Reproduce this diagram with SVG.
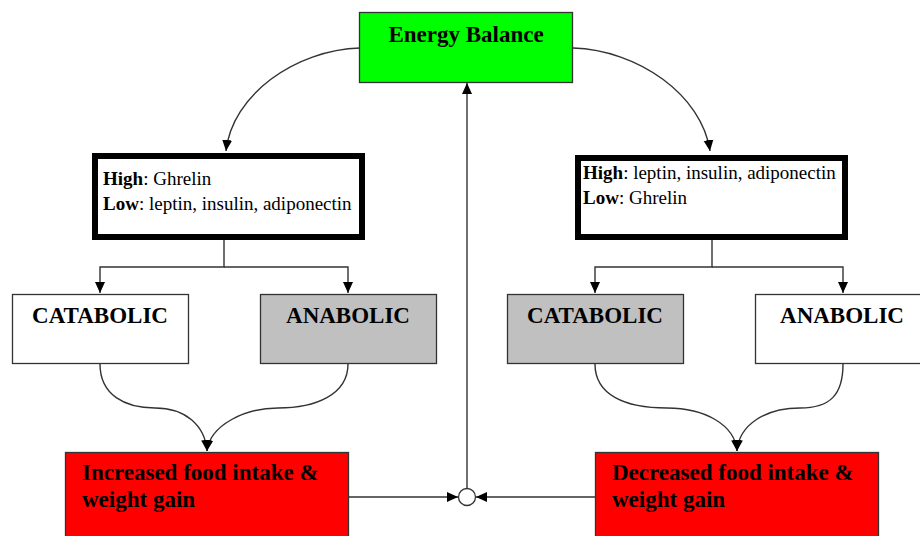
<svg xmlns="http://www.w3.org/2000/svg" width="920" height="536" viewBox="0 0 920 536">
<defs>
<marker id="arr" markerUnits="userSpaceOnUse" markerWidth="12" markerHeight="12" viewBox="0 0 12 12" refX="11" refY="6" orient="auto">
<path d="M0,1 L11,6 L0,11 Z" fill="#000"/>
</marker>
</defs>
<style>
.thin{stroke:#333;stroke-width:1.3}
.big{font-family:'Liberation Serif',serif;font-weight:bold;font-size:23px;fill:#000}
.hor{font-family:'Liberation Serif',serif;font-size:19px;fill:#000}
.thick{fill:#fff;stroke:#000;stroke-width:6}
.conn{fill:none;stroke:#333;stroke-width:1.4}
</style>
<rect width="920" height="536" fill="#fff"/>
<g id="connectors">
<path class="conn" d="M360,48 C295,50 232,95 226,151" marker-end="url(#arr)"/>
<path class="conn" d="M573,48 C638,50 702,95 710,151" marker-end="url(#arr)"/>
<path class="conn" d="M224,240 V267 H100 V293" marker-end="url(#arr)"/>
<path class="conn" d="M224,267 H348 V293" marker-end="url(#arr)"/>
<path class="conn" d="M712,240 V267 H595 V293" marker-end="url(#arr)"/>
<path class="conn" d="M712,267 H843 V293" marker-end="url(#arr)"/>
<path class="conn" d="M100,364 C100,395 125,408 155,408 C185,408 205,425 207,451" marker-end="url(#arr)"/>
<path class="conn" d="M348,364 C348,395 315,408 278,408 C245,408 210,425 207,451" marker-end="url(#arr)"/>
<path class="conn" d="M595,364 C595,395 625,408 667,408 C705,408 735,425 737,451" marker-end="url(#arr)"/>
<path class="conn" d="M843,364 C843,395 830,408 800,408 C765,408 739,425 737,451" marker-end="url(#arr)"/>
<path class="conn" d="M348,497 H458" marker-end="url(#arr)"/>
<path class="conn" d="M595,497 H476" marker-end="url(#arr)"/>
<path class="conn" d="M467,488 V83" marker-end="url(#arr)"/>
<circle cx="467" cy="497" r="8.5" fill="#fff" stroke="#333" stroke-width="1.3"/>
</g>
<g id="energy-balance">
<rect x="359.5" y="12.5" width="213" height="70" fill="#00ff00" class="thin"/>
<text class="big" x="466" y="42" text-anchor="middle">Energy Balance</text>
</g>
<g id="hormones-left" font-family="Liberation Serif, serif">
<rect class="thick" x="95" y="156" width="267" height="81"/>
<text class="hor" x="103" y="185"><tspan font-weight="bold">High</tspan>: Ghrelin</text>
<text class="hor" x="103" y="210"><tspan font-weight="bold">Low</tspan>: leptin, insulin, adiponectin</text>
</g>
<g id="hormones-right" font-family="Liberation Serif, serif">
<rect class="thick" x="578" y="158" width="267" height="79"/>
<text class="hor" x="583" y="179"><tspan font-weight="bold">High</tspan>: leptin, insulin, adiponectin</text>
<text class="hor" x="583" y="204"><tspan font-weight="bold">Low</tspan>: Ghrelin</text>
</g>
<g id="catabolic-left">
<rect x="12.5" y="294.5" width="176" height="69" fill="#fff" class="thin"/>
<text class="big" x="100" y="323" text-anchor="middle">CATABOLIC</text>
</g>
<g id="anabolic-left">
<rect x="260.5" y="294.5" width="176" height="69" fill="#c0c0c0" class="thin"/>
<text class="big" x="348" y="323" text-anchor="middle">ANABOLIC</text>
</g>
<g id="catabolic-right">
<rect x="507.5" y="294.5" width="176" height="69" fill="#c0c0c0" class="thin"/>
<text class="big" x="595" y="323" text-anchor="middle">CATABOLIC</text>
</g>
<g id="anabolic-right">
<rect x="755.5" y="294.5" width="176" height="69" fill="#fff" class="thin"/>
<text class="big" x="842" y="323" text-anchor="middle">ANABOLIC</text>
</g>
<g id="increased">
<rect x="65.5" y="452.5" width="283" height="90" fill="#ff0000" class="thin"/>
<text class="big" x="82" y="480">Increased food intake &amp;</text>
<text class="big" x="82" y="507">weight gain</text>
</g>
<g id="decreased">
<rect x="595.5" y="452.5" width="283" height="90" fill="#ff0000" class="thin"/>
<text class="big" x="612" y="480">Decreased food intake &amp;</text>
<text class="big" x="612" y="507">weight gain</text>
</g>
</svg>
